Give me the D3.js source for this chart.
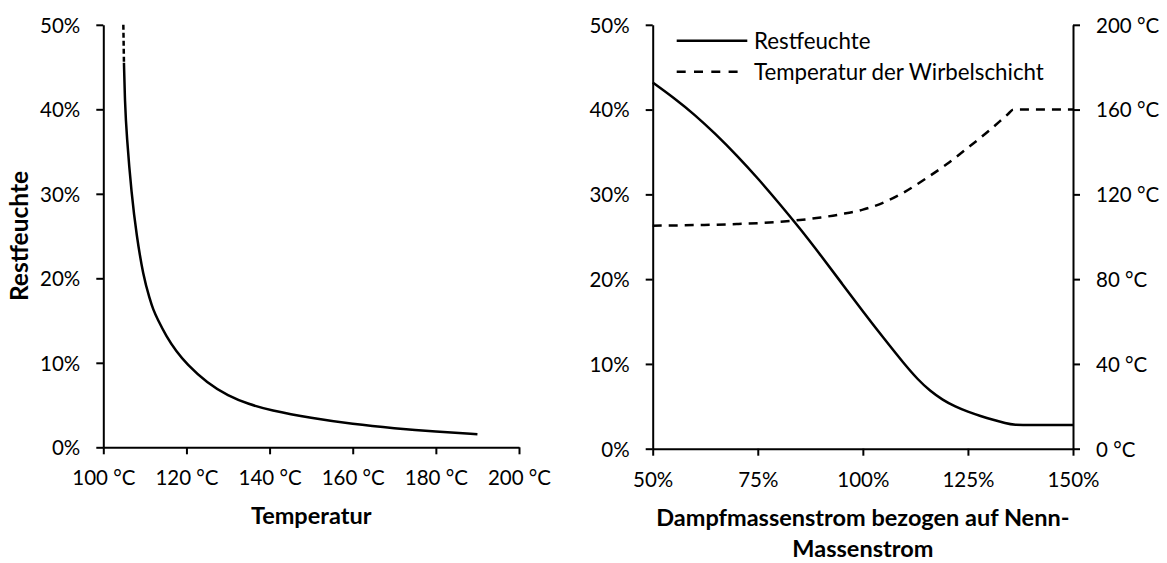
<!DOCTYPE html>
<html><head><meta charset="utf-8">
<script src="https://cdn.jsdelivr.net/npm/d3@7"></script>
<style>
html,body{margin:0;padding:0;background:#fff;}
svg text{font-family:Lato,"Open Sans",sans-serif;fill:#000;}
</style></head>
<body><svg id="c" width="1167" height="563"></svg>
<script>
// ---- data ----
const leftDashed = [[104.82, 50], [104.97, 45.5]];
const leftTemp = [104.97, 105.2, 105.6, 106.8, 108.0, 109.6, 111.2, 112.0, 113.0, 115.2, 117.5, 120, 125, 130, 135, 140, 150, 160, 170, 180, 190];
const leftMoist = [45.5, 40.9, 37.0, 29.9, 25.1, 20.3, 17.5, 16.3, 15.2, 13.1, 11.4, 9.9, 7.6, 6.1, 5.1, 4.4, 3.45, 2.75, 2.25, 1.85, 1.55];
const leftXTicks = [100, 120, 140, 160, 180, 200];
const leftYTicks = [0, 10, 20, 30, 40, 50];

const flowMoist = [50, 55, 60, 65, 70, 75, 80, 85, 90, 95, 100, 105, 110, 113, 116, 119, 122, 125, 128, 131, 134, 136, 140, 150];
const moistVals = [43.2, 41.4, 39.4, 37.1, 34.6, 31.9, 29.0, 26.0, 22.8, 19.5, 16.2, 13.0, 9.9, 8.2, 6.8, 5.75, 4.95, 4.35, 3.85, 3.4, 3.0, 2.8, 2.8, 2.8];
const flowTemp = [50, 60, 70, 80, 85, 90, 95, 100, 105, 110, 115, 120, 125, 130, 134.5, 135.8, 150];
const tempVals = [105.2, 105.5, 106.0, 107.0, 107.9, 109.1, 110.7, 112.8, 116.2, 121.2, 127.5, 134.3, 142.0, 150.0, 157.8, 160, 160];
const rightXTicks = [50, 75, 100, 125, 150];
const rightYTicks = [0, 10, 20, 30, 40, 50];
const rightY2Ticks = [0, 40, 80, 120, 160, 200];
const legendLabels = ["Restfeuchte", "Temperatur der Wirbelschicht"];

// ---- layout ----
const svg = d3.select("#c");
const TICK_FS = 20.5, TITLE_FS = 23.5, LEG_FS = 22.3;

function styleAxis(g) {
  g.select(".domain").attr("stroke", "#000").attr("stroke-width", 2);
  g.selectAll(".tick line").attr("stroke", "#000").attr("stroke-width", 2);
  g.selectAll(".tick text").style("font-size", TICK_FS + "px").style("font-family", "Lato");
}

// Left chart
const lx = d3.scaleLinear().domain([100, 200]).range([103.3, 519]);
const ly = d3.scaleLinear().domain([0, 50]).range([447.3, 24.8]);

const gLX = svg.append("g").attr("transform", `translate(0,${ly(0)})`)
  .call(d3.axisBottom(lx).tickValues(leftXTicks).tickSize(7).tickSizeOuter(0).tickFormat(d => d + " °C"));
styleAxis(gLX);
gLX.selectAll(".tick text").attr("y", 38).attr("dy", 0);

const gLY = svg.append("g").attr("transform", `translate(${lx(100)},0)`)
  .call(d3.axisLeft(ly).tickValues(leftYTicks).tickSize(7).tickSizeOuter(0).tickFormat(d => d + "%"));
styleAxis(gLY);
gLY.selectAll(".tick text").attr("x", -23).attr("dy", "0.36em");

const leftLine = d3.line().x(d => lx(d[0])).y(d => ly(d[1]));
svg.append("path").attr("d", leftLine(leftDashed)).attr("fill", "none").attr("stroke", "#000")
  .attr("stroke-width", 2.5).attr("stroke-dasharray", "5,3");
svg.append("path").attr("d", leftLine.curve(d3.curveBasis)(leftTemp.map((t, i) => [t, leftMoist[i]]))).attr("fill", "none")
  .attr("stroke", "#000").attr("stroke-width", 2.5);

svg.append("text").attr("x", (lx(100) + lx(200)) / 2).attr("y", 524).attr("text-anchor", "middle")
  .style("font-size", TITLE_FS + "px").style("font-weight", "bold").text("Temperatur");
svg.append("text").attr("transform", `translate(28,${(ly(0) + ly(50)) / 2}) rotate(-90)`).attr("text-anchor", "middle")
  .style("font-size", "24.5px").style("font-weight", "bold").text("Restfeuchte");

// Right chart
const rx = d3.scaleLinear().domain([50, 150]).range([652.7, 1073]);
const ry = d3.scaleLinear().domain([0, 50]).range([448.7, 24.8]);
const ry2 = d3.scaleLinear().domain([0, 200]).range([448.7, 24.8]);

const gRX = svg.append("g").attr("transform", `translate(0,${ry(0)})`)
  .call(d3.axisBottom(rx).tickValues(rightXTicks).tickSize(7).tickSizeOuter(0).tickFormat(d => d + "%"));
styleAxis(gRX);
gRX.selectAll(".tick text").attr("y", 38).attr("dy", 0);

const gRY = svg.append("g").attr("transform", `translate(${rx(50)},0)`)
  .call(d3.axisLeft(ry).tickValues(rightYTicks).tickSize(7).tickSizeOuter(0).tickFormat(d => d + "%"));
styleAxis(gRY);
gRY.selectAll(".tick text").attr("x", -23).attr("dy", "0.36em");

const gRY2 = svg.append("g").attr("transform", `translate(${rx(150)},0)`)
  .call(d3.axisRight(ry2).tickValues(rightY2Ticks).tickSize(7).tickSizeOuter(0).tickFormat(d => d + " °C"));
styleAxis(gRY2);
gRY2.selectAll(".tick text").attr("x", 23).attr("dy", "0.36em");

const moistLine = d3.line().x(d => rx(d[0])).y(d => ry(d[1])).curve(d3.curveBasis);
const tempLine = d3.line().x(d => rx(d[0])).y(d => ry2(d[1])).curve(d3.curveMonotoneX);
svg.append("path").attr("d", tempLine(flowTemp.map((f, i) => [f, tempVals[i]]))).attr("fill", "none")
  .attr("stroke", "#000").attr("stroke-width", 2.5).attr("stroke-dasharray", "9,7");
svg.append("path").attr("d", moistLine(flowMoist.map((f, i) => [f, moistVals[i]]))).attr("fill", "none")
  .attr("stroke", "#000").attr("stroke-width", 2.5);

const cx = (rx(50) + rx(150)) / 2;
svg.append("text").attr("x", cx).attr("y", 526).attr("text-anchor", "middle")
  .style("font-size", TITLE_FS + "px").style("font-weight", "bold").text("Dampfmassenstrom bezogen auf Nenn-");
svg.append("text").attr("x", cx).attr("y", 557).attr("text-anchor", "middle")
  .style("font-size", TITLE_FS + "px").style("font-weight", "bold").text("Massenstrom");

// Legend
const leg = svg.append("g");
const legY = [40.7, 71.7];
legendLabels.forEach((lab, i) => {
  leg.append("line").attr("x1", 676.7).attr("x2", i === 1 ? 740 : 747.3).attr("y1", legY[i]).attr("y2", legY[i])
    .attr("stroke", "#000").attr("stroke-width", 2.5).attr("stroke-dasharray", i === 1 ? "9,8.3" : null);
  leg.append("text").attr("x", 754).attr("y", legY[i]).attr("dy", "0.36em")
    .style("font-size", LEG_FS + "px").text(lab);
});
</script></body></html>
